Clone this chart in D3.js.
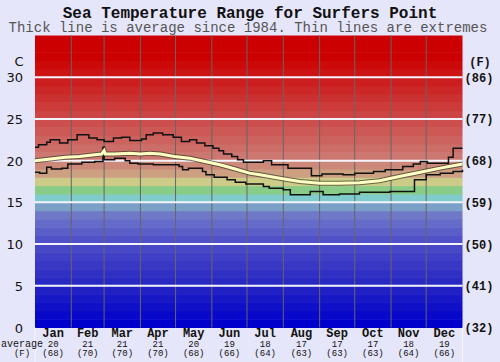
<!DOCTYPE html>
<html>
<head>
<meta charset="utf-8">
<script src="https://cdn.jsdelivr.net/npm/d3@7"></script>
<style>
  body { margin: 0; background: #e6e6fa; }
  svg { display: block; }
</style>
</head>
<body>
<svg id="chart" width="500" height="362"></svg>
<script>
// monthly labels under the chart
const months = ["Jan", "Feb", "Mar", "Apr", "May", "Jun", "Jul", "Aug", "Sep", "Oct", "Nov", "Dec"];
const monthStart = [0, 31, 59, 90, 120, 151, 181, 212, 243, 273, 304, 334, 365];
const avgC = [20, 21, 21, 21, 20, 19, 18, 17, 17, 17, 18, 19];
const avgF = [68, 70, 70, 70, 68, 66, 64, 63, 63, 63, 64, 66];

// axis ticks
const ticksC = [0, 5, 10, 15, 20, 25, 30];
const ticksF = [32, 41, 50, 59, 68, 77, 86];

// average line (day of year, deg C)
const avgDays  = [0, 13, 26, 38, 51, 57, 59, 60, 68, 81, 90, 98, 107, 119, 132, 145, 158, 171, 183, 192, 209, 226, 243, 260, 277, 294, 311, 329, 346, 365];
const avgTemps = [20.0, 20.2, 20.4, 20.5, 20.7, 20.8, 21.2, 20.8, 20.8, 20.9, 20.8, 20.9, 20.8, 20.5, 20.3, 19.9, 19.5, 19.0, 18.5, 18.3, 17.9, 17.5, 17.3, 17.3, 17.35, 17.6, 18.1, 18.6, 19.1, 19.6];

// highest recorded
const maxDays  = [0, 3, 10, 13, 21, 28, 36, 46, 53, 59, 67, 74, 81, 91, 95, 101, 109, 118, 125, 132, 138, 145, 152, 157, 161, 168, 173, 178, 195, 202, 216, 236, 245, 263, 273, 289, 299, 314, 323, 329, 335, 353, 357, 365];
const maxTemps = [21.6, 21.9, 22.2, 22.5, 22.1, 22.5, 23.1, 22.7, 22.5, 22.3, 22.7, 22.8, 22.4, 22.6, 23.1, 23.3, 23.1, 22.8, 22.3, 22.5, 22.1, 21.8, 21.5, 21.2, 20.8, 20.5, 20.1, 19.8, 20.0, 19.5, 19.1, 18.2, 18.4, 18.3, 18.5, 18.7, 18.9, 19.3, 19.6, 19.9, 19.7, 20.4, 21.5, 21.5];

// lowest recorded
const minDays  = [0, 4, 10, 14, 23, 28, 40, 51, 58, 59, 68, 77, 81, 88, 101, 123, 126, 131, 143, 146, 153, 164, 171, 180, 195, 200, 212, 218, 235, 246, 260, 277, 303, 324, 334, 346, 357, 365];
const minTemps = [18.6, 18.5, 19.2, 19.0, 19.1, 19.6, 19.8, 19.9, 21.6, 20.1, 20.3, 20.0, 19.7, 19.6, 19.5, 19.3, 18.9, 19.1, 18.7, 18.3, 18.0, 17.7, 17.4, 17.2, 16.9, 16.7, 16.5, 15.9, 16.3, 15.9, 16.0, 16.2, 16.3, 17.7, 18.3, 18.5, 18.7, 18.9];

const svg = d3.select("#chart");
const mono = "'Liberation Mono', 'Courier New', monospace";

const x = d3.scaleLinear().domain([0, 365]).range([35, 462.5]);
const y = d3.scaleLinear().domain([0, 35]).range([327.5, 35.5]);

// 1 degree colour bands
const bandColor = d3.scaleLinear()
    .domain([0, 5, 10, 13, 14, 15, 16, 17, 18, 19, 20, 25, 30, 32, 35])
    .range(["#0000cc", "#2828c3", "#5050c8", "#7078c8", "#7aa0c8", "#80cccc", "#88cc88",
            "#cccc88", "#cca080", "#cc8878", "#cc7870", "#cc4444", "#cc1414", "#cc0000", "#cc0000"]);

svg.append("g")
    .selectAll("rect")
    .data(d3.range(0, 35))
    .enter()
    .append("rect")
    .attr("x", x(0))
    .attr("width", x(365) - x(0))
    .attr("y", d => y(d + 1))
    .attr("height", d => y(d) - y(d + 1) + 0.5)
    .attr("fill", d => bandColor(d));

// month dividers
svg.append("g")
    .selectAll("line")
    .data(monthStart.slice(1, 12))
    .enter()
    .append("line")
    .attr("x1", d => x(d)).attr("x2", d => x(d))
    .attr("y1", y(35)).attr("y2", y(0))
    .style("stroke", "#666")
    .style("stroke-width", 1);

// white lines every 5 C
svg.append("g")
    .selectAll("line")
    .data(ticksC.slice(1))
    .enter()
    .append("line")
    .attr("x1", x(0)).attr("x2", x(365))
    .attr("y1", d => y(d)).attr("y2", d => y(d))
    .style("stroke", "#f4f4ff")
    .style("stroke-width", 2);

// extremes
const stepLine = d3.line()
    .x(d => x(d[0]))
    .y(d => y(d[1]))
    .curve(d3.curveStepAfter);

svg.append("path")
    .attr("d", stepLine(d3.zip(maxDays, maxTemps)))
    .style("fill", "none")
    .style("stroke", "#111")
    .style("stroke-width", 1.5);

svg.append("path")
    .attr("d", stepLine(d3.zip(minDays, minTemps)))
    .style("fill", "none")
    .style("stroke", "#111")
    .style("stroke-width", 1.5);

// average, thick pale line with a dark edge
const avgLine = d3.line()
    .x(d => x(d[0]))
    .y(d => y(d[1]));
const avgData = d3.zip(avgDays, avgTemps);

svg.append("path")
    .attr("d", avgLine(avgData))
    .style("fill", "none")
    .style("stroke", "#3a3a2a")
    .style("stroke-opacity", 0.7)
    .style("stroke-width", 5);
svg.append("path")
    .attr("d", avgLine(avgData))
    .style("fill", "none")
    .style("stroke", "#ffffc4")
    .style("stroke-width", 3);

// frame lines below the plot
svg.append("g")
    .selectAll("line")
    .data([0, 365])
    .enter()
    .append("line")
    .attr("x1", d => x(d)).attr("x2", d => x(d))
    .attr("y1", y(0)).attr("y2", 362)
    .style("stroke", "#f8f8ff")
    .style("stroke-width", 1);

// titles
svg.append("text")
    .attr("x", 250).attr("y", 17.5)
    .attr("text-anchor", "middle")
    .style("font-family", mono)
    .style("font-weight", "bold")
    .style("font-size", "16px")
    .style("fill", "#111")
    .text("Sea Temperature Range for Surfers Point");

svg.append("text")
    .attr("x", 248).attr("y", 31.5)
    .attr("text-anchor", "middle")
    .style("font-family", mono)
    .style("font-size", "14px")
    .style("fill", "#555")
    .text("Thick line is average since 1984. Thin lines are extremes");

// left axis, celsius
svg.append("g")
    .selectAll("text")
    .data(ticksC)
    .enter()
    .append("text")
    .attr("x", 23)
    .attr("y", d => y(d) + 5)
    .attr("text-anchor", "end")
    .style("font-family", "'DejaVu Sans', sans-serif")
    .style("font-size", "13px")
    .style("fill", "#111")
    .text(d => d);

svg.append("text")
    .attr("x", 19).attr("y", 66)
    .attr("text-anchor", "middle")
    .style("font-family", "'DejaVu Sans', sans-serif")
    .style("font-size", "13px")
    .style("fill", "#111")
    .text("C");

// right axis, fahrenheit
svg.append("g")
    .selectAll("text")
    .data(ticksC)
    .enter()
    .append("text")
    .attr("x", 479)
    .attr("y", (d, i) => y(d) + 4.5)
    .attr("text-anchor", "middle")
    .style("font-family", mono)
    .style("font-weight", "bold")
    .style("font-size", "12px")
    .style("fill", "#111")
    .text((d, i) => "(" + ticksF[i] + ")");

svg.append("text")
    .attr("x", 480).attr("y", 66)
    .attr("text-anchor", "middle")
    .style("font-family", mono)
    .style("font-weight", "bold")
    .style("font-size", "12px")
    .style("fill", "#111")
    .text("(F)");

// month names and monthly averages
const mid = i => x((monthStart[i] + monthStart[i + 1]) / 2);

svg.append("g")
    .selectAll("text")
    .data(months)
    .enter()
    .append("text")
    .attr("x", (d, i) => mid(i))
    .attr("y", 336.5)
    .attr("text-anchor", "middle")
    .style("font-family", mono)
    .style("font-weight", "bold")
    .style("font-size", "12px")
    .style("fill", "#111")
    .text(d => d);

svg.append("g")
    .selectAll("text")
    .data(avgC)
    .enter()
    .append("text")
    .attr("x", (d, i) => mid(i))
    .attr("y", 346.5)
    .attr("text-anchor", "middle")
    .style("font-family", mono)
    .style("font-size", "9px")
    .style("fill", "#111")
    .text(d => d);

svg.append("g")
    .selectAll("text")
    .data(avgF)
    .enter()
    .append("text")
    .attr("x", (d, i) => mid(i))
    .attr("y", 355.5)
    .attr("text-anchor", "middle")
    .style("font-family", mono)
    .style("font-size", "9px")
    .style("fill", "#111")
    .text(d => "(" + d + ")");

svg.append("text")
    .attr("x", 22).attr("y", 346.5)
    .attr("text-anchor", "middle")
    .style("font-family", mono)
    .style("font-size", "10px")
    .style("fill", "#111")
    .text("average");

svg.append("text")
    .attr("x", 22).attr("y", 355.5)
    .attr("text-anchor", "middle")
    .style("font-family", mono)
    .style("font-size", "9px")
    .style("fill", "#111")
    .text("(F)");
</script>
</body>
</html>
